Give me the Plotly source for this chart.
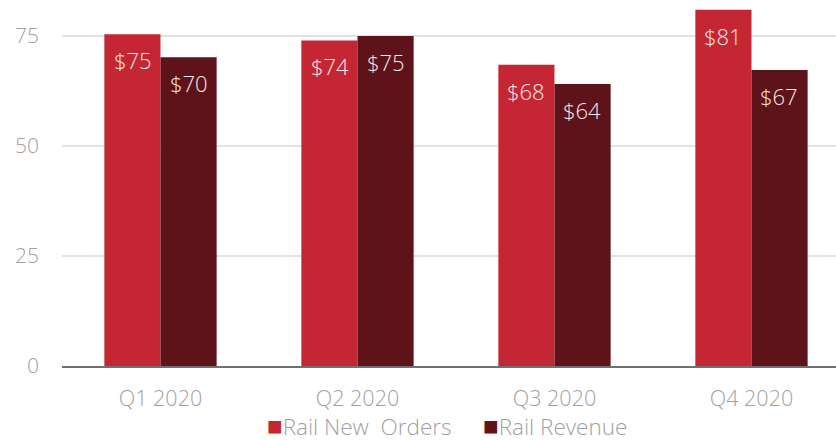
import plotly.graph_objects as go

categories = ["Q1 2020", "Q2 2020", "Q3 2020", "Q4 2020"]
orders = [75.4, 74.0, 68.5, 81.0]
revenue = [70.2, 75.0, 64.1, 67.3]
orders_labels = ["$75", "$74", "$68", "$81"]
revenue_labels = ["$70", "$75", "$64", "$67"]
series_names = ["Rail New&nbsp;&nbsp;Orders", "Rail Revenue"]
series_colors = ["#C42733", "#5E121A"]
y_ticks = [0, 25, 50, 75]

FONT = "Open Sans"
LABEL_FONT = dict(family=FONT, size=22, color="#F6ECEC", weight=300)
GREY = "#A0A0A0"

fig = go.Figure()
for name, vals, col in zip(series_names, (orders, revenue), series_colors):
    fig.add_trace(go.Bar(
        x=categories, y=vals, name=name.replace("&nbsp;", " "),
        marker=dict(color=col, line=dict(width=0)), showlegend=False,
    ))

# value labels near bar tops
for vals, labels, shift in ((orders, orders_labels, -28), (revenue, revenue_labels, 28)):
    for c, v, t in zip(categories, vals, labels):
        fig.add_annotation(x=c, y=v, text=t, showarrow=False, xshift=shift,
                           yanchor="top", yshift=-9, font=LABEL_FONT)

# legend row below the axis
for name, col, xpos in zip(series_names, series_colors, (0.2623, 0.5413)):
    fig.add_annotation(
        xref="paper", yref="paper", x=xpos, y=-0.166, xanchor="left", yanchor="middle",
        showarrow=False,
        text=f"<span style='color:{col};font-size:26px;font-family:DejaVu Sans'>■</span>{name}",
        font=dict(family=FONT, size=22.5, color=GREY, weight=300),
    )

fig.update_layout(
    width=836, height=440,
    margin=dict(l=62, r=0, t=0, b=74, autoexpand=False),
    plot_bgcolor="white", paper_bgcolor="white",
    barmode="group", bargap=0.43, bargroupgap=0,
    font=dict(family=FONT, color=GREY, size=20, weight=300),
    showlegend=False,
)
fig.update_xaxes(
    range=[-0.5, 3.429], showgrid=False, showline=True, linecolor="#707070",
    linewidth=2, ticks="", ticklabelstandoff=12,
    tickfont=dict(family=FONT, size=21.5, color=GREY, weight=300),
)
fig.update_yaxes(
    range=[0, 83.2], tickvals=y_ticks, showgrid=True, gridcolor="#E2E2E2",
    gridwidth=2, zeroline=False, showline=False, ticks="", ticklabelstandoff=22,
    tickfont=dict(family=FONT, size=21, color=GREY, weight=300),
)

fig.write_html("out.html")
